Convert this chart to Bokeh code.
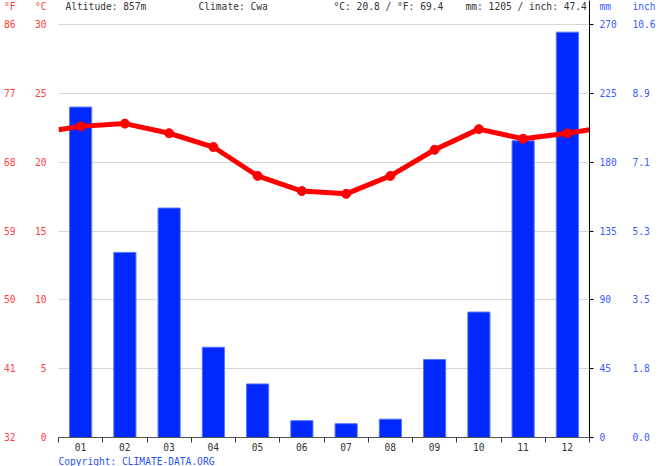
import numpy as np
from bokeh.plotting import figure
from bokeh.models import (Range1d, LinearAxis, FixedTicker, Label, Title,
                          CustomJSTickFormatter)
from bokeh.embed import file_html
from bokeh.resources import INLINE

# climate data
months = ["01", "02", "03", "04", "05", "06", "07", "08", "09", "10", "11", "12"]
temp_c = [22.6, 22.8, 22.1, 21.1, 19.0, 17.9, 17.7, 19.0, 20.9, 22.4, 21.7, 22.1]
precip_mm = [216, 121, 150, 59, 35, 11, 9, 12, 51, 82, 194, 265]

c_ticks = [0, 5, 10, 15, 20, 25, 30]
f_ticks = [32, 41, 50, 59, 68, 77, 86]
mm_ticks = [0, 45, 90, 135, 180, 225, 270]

header_items = ["Altitude: 857m", "Climate: Cwa", "°C: 20.8 / °F: 69.4",
                "mm: 1205 / inch: 47.4"]
copyright = "Copyright: CLIMATE-DATA.ORG"

FONT = "DejaVu Sans Mono"
FS = "9.6px"
RED = "#ff4040"
BLUE = "#3a5cff"
DARK = "#333333"

W, H = 658, 466
TOP_PX, BOTTOM_PX = 24, 437      # pixel rows of 30 °C and 0 °C
HEAD_PX = 6                      # pixel row of the header line

centers = np.arange(len(months)) + 0.5
bounds = np.arange(len(months) + 1)
edge = (temp_c[0] + temp_c[-1]) / 2
line_x = np.concatenate([[0], centers, [len(months)]])
line_y = [edge] + temp_c + [edge]

# the frame reaches the top of the canvas so the header can sit inside it
c_max = c_ticks[-1]
c_per_px = c_max / (BOTTOM_PX - TOP_PX)
top_c = BOTTOM_PX * c_per_px
head_c = (BOTTOM_PX - HEAD_PX) * c_per_px
mm_per_c = mm_ticks[-1] / c_max
to_f = lambda c: 32 + 1.8 * c

p = figure(width=W, height=H, output_backend="svg",
           toolbar_location=None, x_range=Range1d(0, 12), y_range=Range1d(0, top_c),
           min_border_left=57, min_border_right=68, min_border_top=0,
           min_border_bottom=H - BOTTOM_PX)
p.outline_line_color = None
p.xgrid.visible = False
p.ygrid.ticker = FixedTicker(ticks=c_ticks)
p.ygrid.grid_line_color = "#d6d6d6"

p.extra_y_ranges = {"f": Range1d(to_f(0), to_f(top_c)),
                    "mm": Range1d(0, top_c * mm_per_c)}

# x axis: labels in the middle, ticks on the month boundaries
xa = p.xaxis[0]
xa.ticker = FixedTicker(ticks=list(centers), minor_ticks=list(bounds))
xa.formatter = CustomJSTickFormatter(args=dict(labels=months),
                                     code="return labels[Math.round(tick - 0.5)];")
xa.major_tick_line_color = None
xa.major_tick_out = 0
xa.minor_tick_out = 5
xa.minor_tick_in = 0
xa.minor_tick_line_color = DARK
xa.axis_line_color = "#555555"
xa.major_label_standoff = 0
xa.major_label_text_font = FONT
xa.major_label_text_font_size = FS
xa.major_label_text_color = DARK

def style_side(ax, color, standoff):
    ax.axis_line_color = None
    ax.major_tick_line_color = None
    ax.minor_tick_line_color = None
    ax.major_tick_out = 0
    ax.major_tick_in = 0
    ax.major_label_standoff = standoff
    ax.major_label_text_font = FONT
    ax.major_label_text_font_size = FS
    ax.major_label_text_color = color

def head_fmt(limit, unit, expr):
    return CustomJSTickFormatter(args=dict(limit=limit, unit=unit),
                                 code="return tick > limit ? unit : " + expr + ";")

ca = p.yaxis[0]
ca.ticker = FixedTicker(ticks=c_ticks + [head_c])
ca.formatter = head_fmt(c_max + 0.5, "°C", "tick.toFixed(0)")
style_side(ca, RED, 12)

fa = LinearAxis(y_range_name="f", ticker=FixedTicker(ticks=f_ticks + [to_f(head_c)]),
                formatter=head_fmt(f_ticks[-1] + 0.5, "°F", "tick.toFixed(0)"))
style_side(fa, RED, 16)
p.add_layout(fa, "left")

# right side: axis line with ticks, then mm labels, then inch labels
la = LinearAxis(y_range_name="mm", ticker=FixedTicker(ticks=mm_ticks),
                formatter=CustomJSTickFormatter(code="return '';"))
style_side(la, BLUE, 0)
la.axis_line_color = "black"
la.major_tick_line_color = "black"
la.major_tick_out = 4
p.add_layout(la, "right")

head_mm = head_c * mm_per_c
ma = LinearAxis(y_range_name="mm", ticker=FixedTicker(ticks=mm_ticks + [head_mm]),
                formatter=head_fmt(mm_ticks[-1] + 0.5, "mm", "tick.toFixed(0)"))
style_side(ma, BLUE, 6)
p.add_layout(ma, "right")

ia = LinearAxis(y_range_name="mm", ticker=FixedTicker(ticks=mm_ticks + [head_mm]),
                formatter=head_fmt(mm_ticks[-1] + 0.5, "inch", "(tick / 25.4).toFixed(1)"))
style_side(ia, BLUE, 13)
p.add_layout(ia, "right")

p.vbar(x=centers, width=0.5, top=precip_mm, bottom=0, y_range_name="mm",
       fill_color="#0028ff", line_color="#5573ff", line_width=1)
p.line(line_x, line_y, line_color="#ff0000", line_width=5)
p.scatter(centers, temp_c, size=9, color="#ff0000")

# header texts (inside the frame, in canvas pixels)
header_x = [65, 198, 333, 465]
for hx, txt in zip(header_x, header_items):
    p.add_layout(Label(x=hx, y=HEAD_PX, x_units="canvas", y_units="canvas", text=txt,
                       text_font=FONT, text_font_size=FS, text_color=DARK,
                       text_baseline="middle"))

p.add_layout(Title(text=copyright, align="left", offset=0, standoff=0,
                   text_font=FONT, text_font_size=FS, text_font_style="normal",
                   text_color="#2a55ee"), "below")

open("out.html", "w").write(file_html(p, INLINE))
